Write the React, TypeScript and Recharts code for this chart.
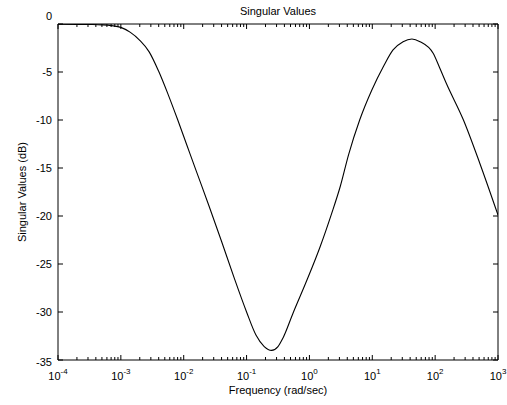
import React from 'react'
import { LineChart, Line, XAxis, YAxis } from 'recharts'

// frequency (rad/sec) and singular value (dB)
const FREQ = [
  0.0001, 0.000316, 0.0005, 0.00071, 0.001, 0.0014, 0.002, 0.00282, 0.00398, 0.00562,
  0.00794, 0.0112, 0.0158, 0.0251, 0.0398, 0.0631, 0.1, 0.141, 0.191, 0.25,
  0.316, 0.38, 0.55, 0.91, 1.48, 2.24, 3.1, 4.2, 6.3, 9.8,
  15.1, 21.4, 30.9, 42.7, 57.5, 93, 117, 151, 282, 513,
  1000,
]
const SV = [
  -0.01, -0.05, -0.09, -0.17, -0.35, -0.85, -1.7, -2.9, -4.9, -7.3,
  -9.9, -12.6, -15.3, -18.9, -22.6, -26.4, -30.0, -32.4, -33.6, -34.0,
  -33.6, -32.7, -30.1, -26.7, -23.2, -19.8, -16.9, -13.6, -10, -6.9,
  -4.4, -2.7, -1.84, -1.56, -1.84, -3.05, -4.5, -6.2, -10, -14.5,
  -19.9,
]

const X_MAJOR = [1e-4, 1e-3, 1e-2, 1e-1, 1, 10, 100, 1000]
const X_EXP = ['-4', '-3', '-2', '-1', '0', '1', '2', '3']
const X_MINOR: number[] = []
X_MAJOR.slice(0, -1).forEach(d => {
  for (let k = 2; k <= 9; k++) X_MINOR.push(+(d * k).toPrecision(3))
})
const X_TICKS = [...X_MAJOR, ...X_MINOR].sort((a, b) => a - b)
const Y_TICKS = [-35, -30, -25, -20, -15, -10, -5, 0]

const data = FREQ.map((f, i) => ({ freq: f, sv: SV[i] }))

const FONT = '"Liberation Sans", Arial, sans-serif'
const MAJOR_LEN = 5
const MINOR_LEN = 3

function majorIndex(v: number) {
  return X_MAJOR.findIndex(m => Math.abs(m - v) / m < 1e-6)
}

function BottomTick({ x, y, payload }: any) {
  const idx = majorIndex(payload.value)
  const len = idx >= 0 ? MAJOR_LEN : MINOR_LEN
  return (
    <g>
      <line x1={x} x2={x} y1={y} y2={y - len} stroke="#000" strokeWidth={1} />
      {idx >= 0 && (
        <text x={x} y={y + 20} textAnchor="middle" fontSize={11} fontFamily={FONT} fill="#000">
          10
          <tspan dy={-6} fontSize={8}>{X_EXP[idx]}</tspan>
        </text>
      )}
    </g>
  )
}

function TopTick({ x, y, payload }: any) {
  const len = majorIndex(payload.value) >= 0 ? MAJOR_LEN : MINOR_LEN
  return <line x1={x} x2={x} y1={y} y2={y + len} stroke="#000" strokeWidth={1} />
}

function LeftTick({ x, y, payload }: any) {
  const v = payload.value
  const shift = v === 0 ? -8 : v === -35 ? 2 : 0
  return (
    <g>
      <line x1={x} x2={x + MAJOR_LEN} y1={y} y2={y} stroke="#000" strokeWidth={1} />
      <text x={x - 6} y={y + 4 + shift} textAnchor="end" fontSize={11} fontFamily={FONT} fill="#000">
        {v}
      </text>
    </g>
  )
}

function RightTick({ x, y }: any) {
  return <line x1={x} x2={x - MAJOR_LEN} y1={y} y2={y} stroke="#000" strokeWidth={1} />
}

export default function App() {
  return (
    <div style={{ position: 'absolute', left: 0, top: 0, width: 507, height: 405, background: '#fff' }}>
      <LineChart width={507} height={405} data={data} margin={{ top: 23, right: 8, bottom: 0, left: 0 }}>
        <XAxis
          xAxisId="bottom"
          dataKey="freq"
          type="number"
          scale="log"
          domain={[1e-4, 1e3]}
          allowDataOverflow
          ticks={X_TICKS}
          interval={0}
          height={45}
          tickLine={false}
          tickSize={0}
          tickMargin={0}
          axisLine={{ stroke: '#000' }}
          tick={<BottomTick />}
          label={{
            content: ({ viewBox }: any) => (
              <text
                x={viewBox.x + viewBox.width / 2}
                y={viewBox.y + 34}
                textAnchor="middle"
                fontSize={11}
                fontFamily={FONT}
                fill="#000"
              >
                Frequency (rad/sec)
              </text>
            ),
          }}
        />
        <XAxis
          xAxisId="top"
          orientation="top"
          dataKey="freq"
          type="number"
          scale="log"
          domain={[1e-4, 1e3]}
          allowDataOverflow
          ticks={X_TICKS}
          interval={0}
          height={1}
          tickLine={false}
          tickSize={0}
          tickMargin={0}
          axisLine={{ stroke: '#000' }}
          tick={<TopTick />}
          label={{
            content: ({ viewBox }: any) => (
              <text
                x={viewBox.x + viewBox.width / 2}
                y={viewBox.y - 8}
                textAnchor="middle"
                fontSize={11}
                fontFamily={FONT}
                fill="#000"
              >
                Singular Values
              </text>
            ),
          }}
        />
        <YAxis
          yAxisId="left"
          type="number"
          domain={[-35, 0]}
          allowDataOverflow
          ticks={Y_TICKS}
          interval={0}
          width={58}
          tickLine={false}
          tickSize={0}
          tickMargin={0}
          axisLine={{ stroke: '#000' }}
          tick={<LeftTick />}
          label={{
            content: ({ viewBox }: any) => {
              const cx = 26
              const cy = viewBox.y + viewBox.height / 2
              return (
                <text
                  x={cx}
                  y={cy}
                  transform={`rotate(-90, ${cx}, ${cy})`}
                  textAnchor="middle"
                  fontSize={11}
                  fontFamily={FONT}
                  fill="#000"
                >
                  Singular Values (dB)
                </text>
              )
            },
          }}
        />
        <YAxis
          yAxisId="right"
          orientation="right"
          type="number"
          domain={[-35, 0]}
          allowDataOverflow
          ticks={Y_TICKS}
          interval={0}
          width={1}
          tickLine={false}
          tickSize={0}
          tickMargin={0}
          axisLine={{ stroke: '#000' }}
          tick={<RightTick />}
        />
        <Line
          xAxisId="bottom"
          yAxisId="left"
          type="monotone"
          dataKey="sv"
          stroke="#000"
          strokeWidth={1.1}
          dot={false}
          isAnimationActive={false}
        />
        {/* invisible copy so the frame axes on top/right get drawn */}
        <Line
          xAxisId="top"
          yAxisId="right"
          type="monotone"
          dataKey="sv"
          stroke="none"
          dot={false}
          activeDot={false}
          legendType="none"
          isAnimationActive={false}
        />
      </LineChart>
    </div>
  )
}
